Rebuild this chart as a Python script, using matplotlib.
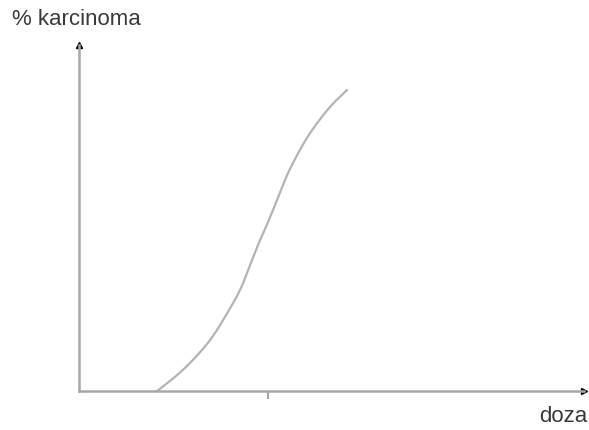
import matplotlib.pyplot as plt
import numpy as np

# curve (dose in tick units, % carcinoma)
doza = [0.413, 0.519, 0.603, 0.693, 0.772, 0.852, 0.905, 0.947, 0.984,
        1.021, 1.058, 1.106, 1.169, 1.233, 1.328, 1.418]
karcinoma = [0.0, 4.6, 9.0, 14.7, 21.4, 29.2, 36.4, 42.2, 46.8,
             51.6, 56.6, 63.0, 69.7, 75.4, 82.1, 87.0]
x_ticks = [1]

linija = "#b4b4b4"
os_boja = "#a8a8a8"
tekst = "#3a3a3a"


def catmull_rom(px, py, n=20):
    # glatka krivulja kroz ocitane tocke
    px = np.asarray(px, float)
    py = np.asarray(py, float)
    px = np.concatenate([[2 * px[0] - px[1]], px, [2 * px[-1] - px[-2]]])
    py = np.concatenate([[2 * py[0] - py[1]], py, [2 * py[-1] - py[-2]]])
    ox, oy = [], []
    t = np.linspace(0, 1, n, endpoint=False)
    for i in range(1, len(px) - 2):
        for arr, out in ((px, ox), (py, oy)):
            p0, p1, p2, p3 = arr[i - 1], arr[i], arr[i + 1], arr[i + 2]
            out.extend(0.5 * (2 * p1 + (-p0 + p2) * t
                              + (2 * p0 - 5 * p1 + 4 * p2 - p3) * t ** 2
                              + (-p0 + 3 * p1 - 3 * p2 + p3) * t ** 3))
    ox.append(px[-2])
    oy.append(py[-2])
    return ox, oy


fig = plt.figure(figsize=(5.89, 4.30), dpi=100)
ax = fig.add_axes([0, 0, 1, 1])
ax.set_xlim(-0.418, 2.698)
ax.set_ylim(-11.27, 113.0)

cx, cy = catmull_rom(doza, karcinoma)
ax.plot(cx, cy, color=linija, lw=1.6, solid_capstyle="round")

# osi
for s in ["top", "right"]:
    ax.spines[s].set_visible(False)
ax.spines["left"].set_position(("data", 0))
ax.spines["bottom"].set_position(("data", 0))
ax.spines["left"].set_bounds(0, 100)
ax.spines["bottom"].set_bounds(0, 2.67)
for s in ["left", "bottom"]:
    ax.spines[s].set_color(os_boja)
    ax.spines[s].set_linewidth(1.8)

ax.plot(0, 100, marker="^", color="black", ms=4.5, clip_on=False)
ax.plot(2.67, 0, marker=">", color="black", ms=4.5, clip_on=False)

ax.set_xticks(x_ticks)
ax.set_xticklabels([""])
ax.set_yticks([])
ax.tick_params(axis="x", direction="out", length=6, width=1.5, color=os_boja)

ax.text(0.02, 0.955, "% karcinoma", transform=ax.transAxes, fontsize=16,
        color=tekst, va="center", ha="left", family="Liberation Sans")
ax.text(0.997, 0.032, "doza", transform=ax.transAxes, fontsize=16,
        color=tekst, va="center", ha="right", family="Liberation Sans")

plt.savefig("out.png", dpi=100)
